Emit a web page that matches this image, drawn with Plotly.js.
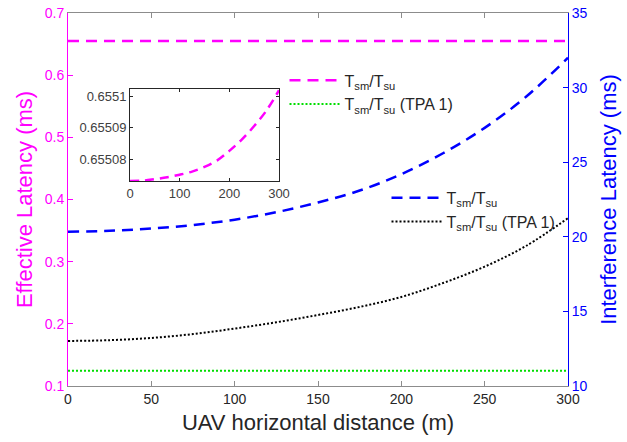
<!DOCTYPE html>
<html>
<head>
<meta charset="utf-8">
<script src="https://cdn.plot.ly/plotly-3.0.1.min.js"></script>
<style>html,body{margin:0;padding:0;background:#fff;}#chart{width:627px;height:442px;}</style>
</head>
<body>
<div id="chart"></div>
<script>
// UAV horizontal distance (m)
const distance = [0, 25, 50, 75, 100, 125, 150, 175, 200, 225, 250, 275, 300];
// Effective latency (ms), left axis
const effTsmTsu = [0.6550730, 0.6550731, 0.6550736, 0.6550742, 0.6550750, 0.6550760, 0.6550775, 0.6550795, 0.6550826, 0.6550862, 0.6550905, 0.6550955, 0.6551019];
const effTsmTsuTPA1 = [0.1245, 0.1245, 0.1245, 0.1245, 0.1245, 0.1245, 0.1245, 0.1245, 0.1245, 0.1245, 0.1245, 0.1245, 0.1245];
// Interference latency (ms), right axis
const intTsmTsu = [20.34, 20.40, 20.55, 20.79, 21.15, 21.65, 22.30, 23.10, 24.20, 25.60, 27.30, 29.40, 32.00];
const intTsmTsuTPA1 = [13.02, 13.07, 13.22, 13.48, 13.85, 14.27, 14.76, 15.30, 15.97, 16.90, 18.00, 19.40, 21.25];
// tick labels
const xTicks = [0, 50, 100, 150, 200, 250, 300];
const leftTicks = [0.1, 0.2, 0.3, 0.4, 0.5, 0.6, 0.7];
const rightTicks = [10, 15, 20, 25, 30, 35];
const insetXTicks = [0, 100, 200, 300];
const insetYTicks = [0.65508, 0.65509, 0.6551];
const insetYLabels = ['0.65508', '0.65509', '0.6551'];
const seriesName = 'T<sub>sm</sub>/T<sub>su</sub>';
const seriesNameTPA = 'T<sub>sm</sub>/T<sub>su</sub> (TPA 1)';

const MAG = '#ff00ff', BLUE = '#0000ff', GRN = '#00dd00', BLK = '#000000';
const FONT = 'Liberation Sans, Arial, sans-serif';

const traces = [
  {x: distance, y: effTsmTsu, type: 'scatter', mode: 'lines', name: seriesName,
   xaxis: 'x', yaxis: 'y', legend: 'legend',
   line: {color: MAG, width: 2.5, dash: '11px,7px'}},
  {x: distance, y: effTsmTsuTPA1, type: 'scatter', mode: 'lines', name: seriesNameTPA,
   xaxis: 'x', yaxis: 'y', legend: 'legend',
   line: {color: GRN, width: 2, dash: '2px,2px'}},
  {x: distance, y: intTsmTsu, type: 'scatter', mode: 'lines', name: seriesName,
   xaxis: 'x', yaxis: 'y2', legend: 'legend2',
   line: {color: BLUE, width: 2.5, dash: '11px,7px', shape: 'spline'}},
  {x: distance, y: intTsmTsuTPA1, type: 'scatter', mode: 'lines', name: seriesNameTPA,
   xaxis: 'x', yaxis: 'y2', legend: 'legend2',
   line: {color: BLK, width: 2, dash: '2px,2px', shape: 'spline'}},
  {x: distance, y: effTsmTsu, type: 'scatter', mode: 'lines', showlegend: false,
   xaxis: 'x3', yaxis: 'y3',
   line: {color: MAG, width: 2.5, dash: '9px,6px', shape: 'spline'}}
];

const layout = {
  width: 627, height: 442,
  margin: {l: 68, r: 59, t: 13, b: 56},
  paper_bgcolor: '#fff', plot_bgcolor: '#fff',
  font: {family: FONT, size: 14, color: '#262626'},
  xaxis: {
    range: [0, 300], tickvals: xTicks, ticks: 'inside', ticklen: 5,
    showgrid: false, zeroline: false, showline: true, linecolor: '#8c8c8c', linewidth: 1,
    mirror: 'ticks', tickcolor: '#8c8c8c',
    tickfont: {size: 14, color: '#262626'},
    title: {text: 'UAV horizontal distance (m)', font: {size: 22, color: '#262626'}, standoff: 8},
    domain: [0, 1]
  },
  yaxis: {
    range: [0.1, 0.7], tickvals: leftTicks, ticktext: leftTicks.map(v => v.toFixed(1)),
    ticks: 'inside', ticklen: 5, tickcolor: MAG,
    showgrid: false, zeroline: false, showline: true, linecolor: MAG, linewidth: 1,
    tickfont: {size: 14, color: MAG},
    title: {text: 'Effective Latency (ms)', font: {size: 22, color: MAG}, standoff: 6}
  },
  yaxis2: {
    range: [10, 35], tickvals: rightTicks, overlaying: 'y', side: 'right',
    ticks: 'inside', ticklen: 5, tickcolor: BLUE,
    showgrid: false, zeroline: false, showline: true, linecolor: BLUE, linewidth: 1,
    tickfont: {size: 14, color: BLUE},
    title: {text: 'Interference Latency (ms)', font: {size: 22, color: BLUE}, standoff: 14}
  },
  xaxis3: {
    domain: [0.124, 0.422], anchor: 'y3', range: [0, 300], tickvals: insetXTicks,
    ticks: 'inside', ticklen: 3, tickcolor: '#262626', showgrid: false, zeroline: false,
    showline: true, linecolor: '#262626', linewidth: 1, mirror: 'ticks',
    tickfont: {size: 13, color: '#404040'}
  },
  yaxis3: {
    domain: [0.5496, 0.7954], anchor: 'x3', range: [0.655073, 0.6551022],
    tickvals: insetYTicks, ticktext: insetYLabels,
    ticks: 'inside', ticklen: 3, tickcolor: '#262626', showgrid: false, zeroline: false,
    showline: true, linecolor: '#262626', linewidth: 1, mirror: 'ticks',
    tickfont: {size: 13, color: '#404040'}
  },
  legend: {
    x: 0.433, y: 0.865, xanchor: 'left', yanchor: 'top', bgcolor: 'rgba(0,0,0,0)',
    borderwidth: 0, font: {size: 16, color: '#262626'}, tracegroupgap: 0, itemwidth: 50
  },
  legend2: {
    x: 0.637, y: 0.55, xanchor: 'left', yanchor: 'top', bgcolor: 'rgba(0,0,0,0)',
    borderwidth: 0, font: {size: 16, color: '#262626'}, tracegroupgap: 0, itemwidth: 50
  },
  showlegend: true
};

Plotly.newPlot('chart', traces, layout, {displayModeBar: false, staticPlot: true});
</script>
</body>
</html>
